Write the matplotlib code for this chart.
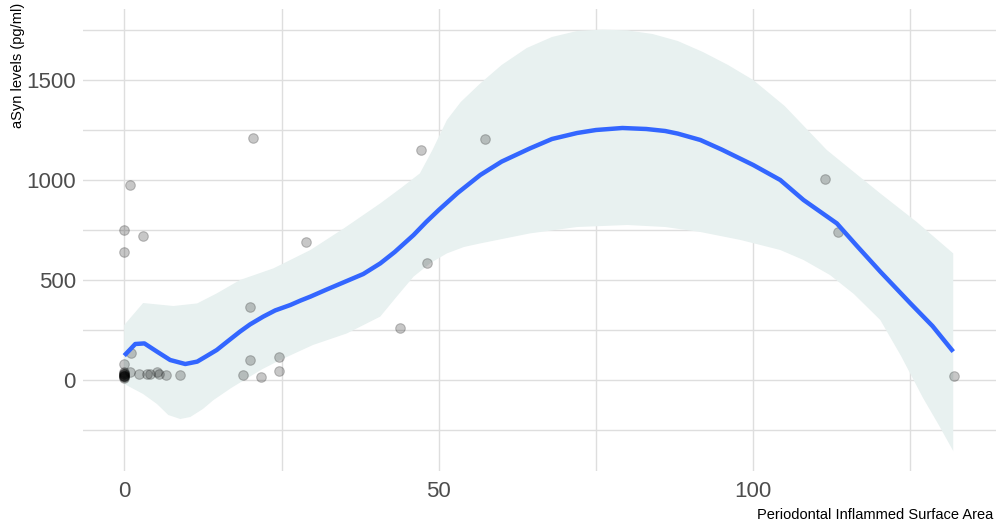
import numpy as np
import matplotlib
matplotlib.use("Agg")
import matplotlib.pyplot as plt
from matplotlib.ticker import FixedLocator

# observed points
pisa = [0.9, 0, 3, 0, 20, 1.1, 0,
        0, 0, 0, 0, 0, 0, 0, 0, 0, 0,
        0.85, 2.3, 3.6, 4.1, 5.2, 5.6, 6.7, 8.8,
        18.9, 20, 21.8, 24.6, 24.6, 28.9, 20.5,
        47.2, 57.4, 48.2, 43.9, 111.4, 113.5, 132]
asyn = [975, 749, 720, 642, 367, 137, 78,
        10, 15, 18, 20, 22, 25, 28, 30, 35, 40,
        42, 32, 32, 32, 42, 32, 25, 27,
        27, 102, 15, 115, 43, 690, 1210,
        1148, 1207, 587, 262, 1005, 742, 22]

# smooth fit
fit_x = [0, 1.75, 3.2, 5.2, 7.3, 9.7, 11.6, 13, 14.7, 16.5, 18.4, 20, 22.1,
         24, 26.4, 28, 29.6, 32, 35, 38, 40.7, 43, 46, 48, 50, 53, 56.6, 60,
         64.5, 68, 72, 75, 79.2, 83, 86, 88, 91.6, 95, 100, 104.3, 108, 113.3,
         116.5, 120.2, 125, 128.5, 131.8]
fit_y = [122, 180, 183, 142, 100, 80, 92, 118, 150, 195, 242, 278, 317,
         348, 375, 397, 417, 450, 490, 530, 583, 640, 725, 790, 850, 935, 1025,
         1092, 1158, 1205, 1235, 1250, 1260, 1255, 1245, 1232, 1200, 1152,
         1075, 1000, 900, 783, 670, 542, 383, 270, 142]

# confidence band edges
up_x = [0, 3, 7.8, 11.6, 14.7, 18.4, 23.7, 29.6, 35, 40.7, 44, 47, 49, 51.3,
        53.5, 56.5, 60, 64, 68, 72, 76, 80, 84, 88, 92, 96, 100, 105, 111.7,
        116, 120.2, 126, 131.8]
up_y = [275, 385, 370, 383, 433, 500, 558, 650, 760, 883, 960, 1033, 1150,
        1300, 1390, 1480, 1575, 1660, 1715, 1745, 1752, 1748, 1730, 1695,
        1640, 1575, 1500, 1370, 1150, 1040, 933, 790, 633]
lo_x = [0, 3, 5.2, 7, 8.9, 10.5, 12.5, 14.2, 17, 19.5, 22, 24.8, 30, 35.4,
        40.7, 43.4, 46, 48.7, 51.3, 54, 56.6, 64.5, 72, 80, 86, 91.6, 98,
        104.3, 108, 112.2, 116, 120.2, 123.5, 127, 129.5, 131.8]
lo_y = [-20, -70, -120, -175, -195, -185, -145, -100, -40, 8, 55, 100, 175,
        233, 317, 420, 517, 585, 633, 665, 683, 733, 765, 775, 765, 740, 700,
        650, 600, 525, 430, 300, 120, -90, -225, -355]

x_major = [0, 50, 100]
x_minor = [25, 75, 125]
y_major = [0, 500, 1000, 1500]
y_minor = [-250, 250, 750, 1250, 1750]

plt.rcParams['font.family'] = ['Liberation Sans', 'DejaVu Sans']

fig = plt.figure(figsize=(9.97, 5.23), dpi=100)
ax = fig.add_axes([0.083, 0.0994, 0.916, 0.8834])

ax.fill(np.r_[up_x, lo_x[::-1]], np.r_[up_y, lo_y[::-1]],
        color='#e8f1f0', lw=0, zorder=1)
ax.scatter(pisa, asyn, s=48, color='black', alpha=0.22, lw=0.8,
           edgecolors='black', zorder=2)
ax.plot(fit_x, fit_y, color='#3366ff', lw=3.2, zorder=3,
        solid_capstyle='butt', solid_joinstyle='round')

ax.set_xlim(-6.6, 138.6)
ax.set_ylim(-455, 1855)
ax.xaxis.set_major_locator(FixedLocator(x_major))
ax.xaxis.set_minor_locator(FixedLocator(x_minor))
ax.yaxis.set_major_locator(FixedLocator(y_major))
ax.yaxis.set_minor_locator(FixedLocator(y_minor))
ax.grid(True, which='both', color='#dedede', lw=1.0, zorder=0)
ax.set_axisbelow(True)
for s in ax.spines.values():
    s.set_visible(False)
ax.tick_params(which='both', length=0)
tick_font = ['Liberation Sans Narrow', 'Liberation Sans', 'DejaVu Sans']
ax.tick_params(axis='x', pad=7, labelsize=16, labelcolor='#4d4d4d')
ax.tick_params(axis='y', pad=5, labelsize=16, labelcolor='#4d4d4d')
for lab in ax.get_xticklabels() + ax.get_yticklabels():
    lab.set_family(tick_font)

fig.text(993 / 997, 1 - 519 / 523, 'Periodontal Inflammed Surface Area',
         ha='right', va='baseline', fontsize=10.5)
fig.text(18 / 997, 1 - 3 / 523, 'aSyn levels (pg/ml)', rotation=90,
         ha='center', va='top', fontsize=10.5)

fig.savefig('out.png', dpi=100)
